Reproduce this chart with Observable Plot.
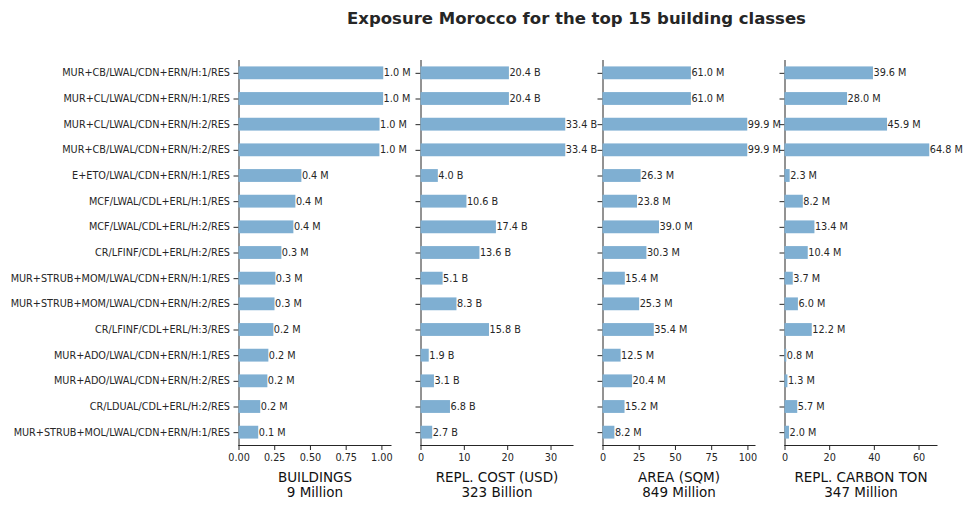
<!DOCTYPE html>
<html>
<head>
<meta charset="utf-8">
<script src="https://cdn.jsdelivr.net/npm/d3@7"></script>
<script src="https://cdn.jsdelivr.net/npm/@observablehq/plot@0.6"></script>
<style>
  body { margin: 0; background: #fff; font-family: "DejaVu Sans", sans-serif; }
  #title { height: 38px; line-height: 38px; padding-left: 180px; width: 793px; text-align: center;
           font-weight: bold; font-size: 16.5px; color: #262626; }
  #panels { position: relative; width: 973px; height: 472px; }
  #panels svg { position: absolute; left: 0; top: 0; }
</style>
</head>
<body>
<div id="title">Exposure Morocco for the top 15 building classes</div>
<div id="panels"></div>
<script>
// Top 15 building classes, ordered by number of buildings
const classes = [
  "MUR+CB/LWAL/CDN+ERN/H:1/RES",
  "MUR+CL/LWAL/CDN+ERN/H:1/RES",
  "MUR+CL/LWAL/CDN+ERN/H:2/RES",
  "MUR+CB/LWAL/CDN+ERN/H:2/RES",
  "E+ETO/LWAL/CDN+ERN/H:1/RES",
  "MCF/LWAL/CDL+ERL/H:1/RES",
  "MCF/LWAL/CDL+ERL/H:2/RES",
  "CR/LFINF/CDL+ERL/H:2/RES",
  "MUR+STRUB+MOM/LWAL/CDN+ERN/H:1/RES",
  "MUR+STRUB+MOM/LWAL/CDN+ERN/H:2/RES",
  "CR/LFINF/CDL+ERL/H:3/RES",
  "MUR+ADO/LWAL/CDN+ERN/H:1/RES",
  "MUR+ADO/LWAL/CDN+ERN/H:2/RES",
  "CR/LDUAL/CDL+ERL/H:2/RES",
  "MUR+STRUB+MOL/LWAL/CDN+ERN/H:1/RES"
];

// Buildings (millions)
const buildings = [1.013, 1.012, 0.987, 0.986, 0.44, 0.398, 0.384, 0.30, 0.258, 0.252, 0.244, 0.209, 0.202, 0.152, 0.138];
// Replacement cost (billion USD)
const replCost = [20.4, 20.4, 33.4, 33.4, 4.0, 10.6, 17.4, 13.6, 5.1, 8.3, 15.8, 1.9, 3.1, 6.8, 2.7];
// Floor area (million sqm)
const area = [61.0, 61.0, 99.9, 99.9, 26.3, 23.8, 39.0, 30.3, 15.4, 25.3, 35.4, 12.5, 20.4, 15.2, 8.2];
// Replacement carbon (million tons)
const carbon = [39.6, 28.0, 45.9, 64.8, 2.3, 8.2, 13.4, 10.4, 3.7, 6.0, 12.2, 0.8, 1.3, 5.7, 2.0];

// Panel headings and totals
const metricNames = ["BUILDINGS", "REPL. COST (USD)", "AREA (SQM)", "REPL. CARBON TON"];
const metricTotals = ["9 Million", "323 Billion", "849 Million", "347 Million"];
const metricUnits = ["M", "B", "M", "M"];
const metricTicks = [[0, 0.25, 0.5, 0.75, 1], [0, 10, 20, 30], [0, 25, 50, 75, 100], [0, 20, 40, 60]];
const metricSeries = [buildings, replCost, area, carbon];

const W = 973, H = 472;
const firstLeft = 238.5, panelW = 152, gap = 30;
const barColor = "#7fafd2", ink = "#262626";

const host = document.getElementById("panels");

metricSeries.forEach((values, i) => {
  const rows = classes.map((c, j) => ({name: c, value: values[j]}));
  const left = firstLeft + i * (panelW + gap);
  const unit = metricUnits[i];
  const chart = Plot.plot({
    width: W,
    height: H,
    marginLeft: left,
    marginRight: W - left - panelW,
    marginTop: 22,
    marginBottom: 65,
    style: {background: "transparent", overflow: "visible", color: ink,
            fontFamily: "DejaVu Sans, sans-serif", fontSize: "9.7px"},
    x: {
      domain: [0, d3.max(values) * 1.05],
      ticks: metricTicks[i],
      tickFormat: i === 0 ? d3.format(".2f") : d3.format("d"),
      tickSize: 5,
      tickPadding: 4,
      line: true,
      label: null
    },
    y: {
      domain: classes,
      round: false,
      paddingInner: 0.5,
      paddingOuter: 0.25,
      tickSize: 5,
      tickPadding: 4,
      tickFormat: i === 0 ? (d) => d : () => "",
      line: true,
      label: null
    },
    marks: [
      Plot.barX(rows, {x: "value", y: "name", fill: barColor}),
      Plot.text(rows, {
        x: "value", y: "name",
        text: (d) => `${d.value.toFixed(1)} ${unit}`,
        textAnchor: "start", dx: 0, fill: ink, fontSize: 9.7
      }),
      Plot.text([`${metricNames[i]}\n${metricTotals[i]}`], {
        frameAnchor: "bottom", lineAnchor: "top", dy: 25,
        fontSize: 13.5, lineHeight: 1.15, fill: "#111"
      })
    ]
  });
  host.appendChild(chart);
});
</script>
</body>
</html>
